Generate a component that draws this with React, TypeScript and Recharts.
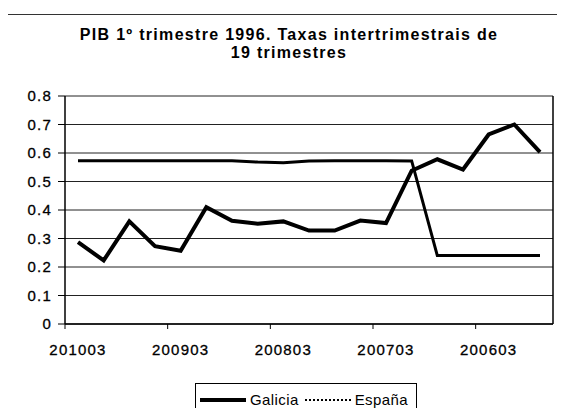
import { CartesianGrid, Legend, Line, LineChart, XAxis, YAxis } from 'recharts'

const quarters = [
  '201003', '200912', '200909', '200906', '200903', '200812', '200809', '200806', '200803', '200712',
  '200709', '200706', '200703', '200612', '200609', '200606', '200603', '200512', '200509',
]
const galicia = [
  0.287, 0.223, 0.36, 0.273, 0.257, 0.41, 0.362, 0.352, 0.36, 0.328,
  0.328, 0.363, 0.354, 0.538, 0.578, 0.542, 0.665, 0.7, 0.603,
]
const espana = [
  0.573, 0.573, 0.573, 0.573, 0.573, 0.573, 0.573, 0.568, 0.566, 0.572,
  0.573, 0.573, 0.573, 0.572, 0.24, 0.24, 0.24, 0.24, 0.24,
]
const yTicks = [0, 0.1, 0.2, 0.3, 0.4, 0.5, 0.6, 0.7, 0.8]
const seriesOrder = ['galicia', 'espana']

const data = quarters.map((q, i) => ({ q, galicia: galicia[i], espana: espana[i] }))

const font = '"Liberation Sans", Arial, sans-serif'

function XTick({ x, y, payload }: any) {
  return (
    <g>
      <line x1={x - 13} x2={x - 13} y1={y - 20} y2={y - 15} stroke="#000" />
      <text
        x={x}
        y={y}
        dy="0.71em"
        textAnchor="middle"
        fontSize={15}
        letterSpacing={1.2}
        fill="#000"
        stroke="#000"
        strokeWidth={0.3}
      >
        {payload.value}
      </text>
    </g>
  )
}

function LegendBox({ payload }: any) {
  const items = [...(payload || [])].sort(
    (a: any, b: any) => seriesOrder.indexOf(a.dataKey) - seriesOrder.indexOf(b.dataKey),
  )
  return (
    <div
      style={{
        border: '1px solid #000',
        height: 31,
        display: 'flex',
        alignItems: 'center',
        padding: '0 4px',
        fontSize: 15,
        letterSpacing: 0.4,
        color: '#000',
        background: '#fff',
      }}
    >
      {items.map((p: any, i: number) => (
        <span key={p.value} style={{ display: 'flex', alignItems: 'center', marginLeft: i ? 6 : 0 }}>
          <span
            style={{
              display: 'inline-block',
              width: 46,
              borderTop: `${p.dataKey === 'galicia' ? 4 : 2}px ${p.dataKey === 'galicia' ? 'solid' : 'dotted'} #000`,
              marginRight: 4,
            }}
          />
          {p.value}
        </span>
      ))}
    </div>
  )
}

export default function App() {
  return (
    <div style={{ position: 'relative', width: 557, height: 400, fontFamily: font }}>
      <div
        style={{
          position: 'absolute',
          left: -1,
          top: 6,
          width: 556,
          height: 396,
          borderLeft: '1px solid #333',
          borderTop: '1px solid #333',
        }}
      />
      <div
        style={{
          position: 'absolute',
          left: 0,
          top: 18,
          width: 562,
          textAlign: 'center',
          fontWeight: 'bold',
          fontSize: 16,
          lineHeight: '18px',
          letterSpacing: 1.3,
          color: '#000',
        }}
      >
        PIB 1º trimestre 1996. Taxas intertrimestrais de
        <br />
        19 trimestres
      </div>
      <div style={{ position: 'absolute', left: 0, top: 0 }}>
        <LineChart
          width={557}
          height={408}
          data={data}
          margin={{ top: 88, right: 11, bottom: 29, left: 0 }}
          style={{ fontFamily: font }}
        >
          <CartesianGrid vertical={false} stroke="#222" />
          <XAxis
            dataKey="q"
            interval={3}
            padding={{ left: 13, right: 13 }}
            axisLine={{ stroke: '#000', strokeWidth: 1.5 }}
            tickLine={false}
            tickSize={0}
            tickMargin={20}
            height={30}
            tick={<XTick />}
          />
          <YAxis
            domain={[0, 0.8]}
            ticks={yTicks}
            interval={0}
            width={57}
            axisLine={{ stroke: '#000', strokeWidth: 1.5 }}
            tickLine={{ stroke: '#000' }}
            tickSize={7}
            tickMargin={6}
            tickFormatter={(v: number) => (v === 0 ? '0' : v.toFixed(1))}
            tick={{ fontSize: 15, fill: '#000', letterSpacing: 1.2, stroke: '#000', strokeWidth: 0.3 }}
          />
          <YAxis
            yAxisId="frame"
            orientation="right"
            domain={[0, 1]}
            width={1}
            tick={false}
            tickLine={false}
            axisLine={{ stroke: '#000', strokeWidth: 1.5 }}
          />
          <Legend
            verticalAlign="bottom"
            content={<LegendBox />}
            wrapperStyle={{ left: 187, width: 222, bottom: 0 }}
          />
          <Line
            dataKey="galicia"
            name="Galicia"
            stroke="#000"
            strokeWidth={4}
            dot={false}
            isAnimationActive={false}
          />
          <Line
            dataKey="espana"
            name="España"
            stroke="#000"
            strokeWidth={3}
            dot={false}
            isAnimationActive={false}
          />
        </LineChart>
      </div>
    </div>
  )
}
